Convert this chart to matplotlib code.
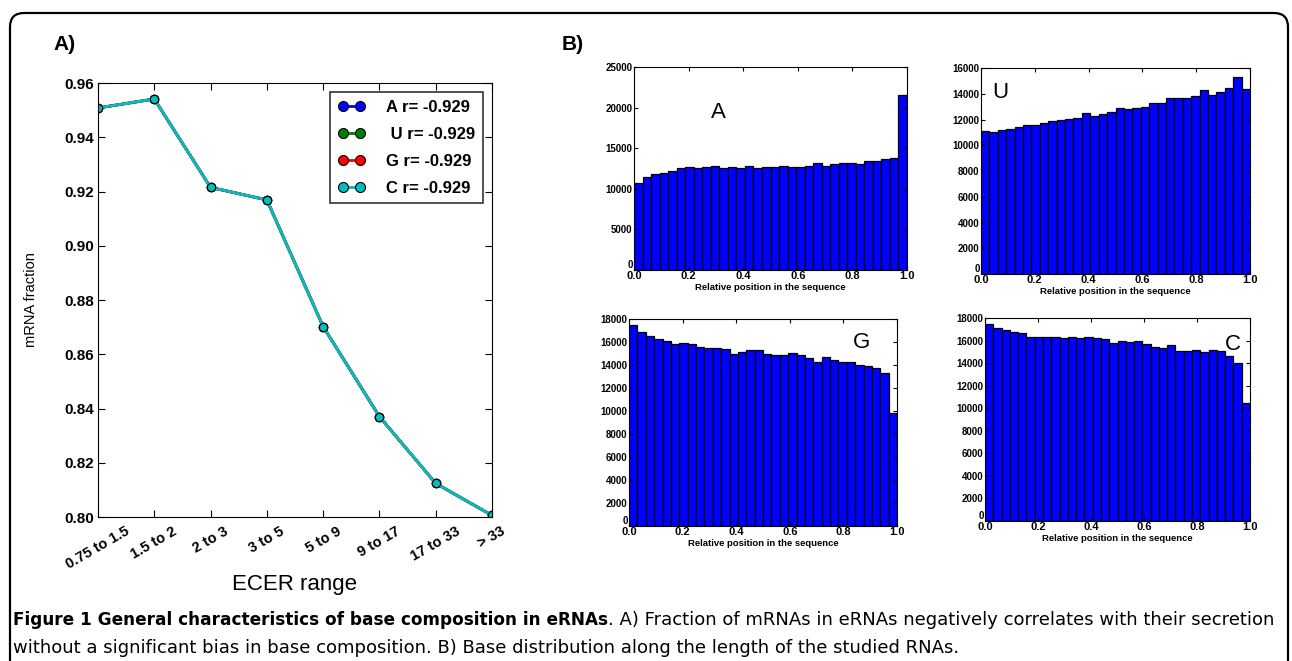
import numpy as np
import matplotlib
matplotlib.use('Agg')
import matplotlib.pyplot as plt
from matplotlib.patches import FancyBboxPatch
from matplotlib.text import Annotation
from matplotlib.transforms import IdentityTransform

plt.rcParams['font.family'] = ['Liberation Sans', 'DejaVu Sans']

################################### Data: #######################################
ecer_ranges = ['0.75 to 1.5', '1.5 to 2', '2 to 3', '3 to 5', '5 to 9', '9 to 17', '17 to 33', '> 33']
mrna_fraction = [0.9508, 0.9541, 0.9215, 0.9169, 0.8702, 0.8370, 0.8124, 0.8006]
legend_labels = ['A r= -0.929', ' U r= -0.929', 'G r= -0.929', 'C r= -0.929']
line_colors = ['b', 'g', 'r', 'c']

# 32 bins along the relative position
counts_A = [10700, 11450, 11800, 12000, 12150, 12600, 12650, 12550, 12700, 12750, 12600, 12700,
            12550, 12800, 12600, 12650, 12650, 12850, 12700, 12650, 12850, 13200, 12850, 13000,
            13150, 13150, 13000, 13400, 13400, 13650, 13850, 21500]
counts_U = [11100, 11000, 11200, 11300, 11450, 11600, 11550, 11700, 11850, 12000, 12050, 12100,
            12500, 12300, 12400, 12600, 12900, 12800, 12900, 12950, 13300, 13300, 13700, 13650,
            13700, 13850, 14300, 13900, 14150, 14450, 15300, 14400]
counts_G = [17500, 16900, 16500, 16300, 16100, 15800, 15950, 15850, 15600, 15450, 15450, 15400,
            15000, 15100, 15300, 15300, 15000, 14900, 14850, 15050, 14900, 14600, 14300, 14700,
            14450, 14250, 14250, 14000, 13900, 13750, 13300, 9800]
counts_C = [17500, 17100, 16900, 16750, 16700, 16350, 16300, 16300, 16300, 16250, 16300, 16250,
            16300, 16200, 16100, 15800, 15950, 15850, 15950, 15700, 15450, 15350, 15600, 15050,
            15100, 15200, 14950, 15150, 15050, 14600, 14050, 10500]

W, H = 1292, 661
fig = plt.figure(figsize=(W / 100, H / 100), dpi=100)

# rounded frame around the whole figure
frame = FancyBboxPatch((10, -60), 1278, 648 + 60, boxstyle="round,pad=0,rounding_size=14",
                       transform=IdentityTransform(), facecolor='none', edgecolor='black', lw=1.6)
fig.add_artist(frame)


def px_axes(left, top, right, bottom):
    return fig.add_axes([left / W, 1 - bottom / H, (right - left) / W, (bottom - top) / H])


################################### Panel A: ####################################
axA = px_axes(98, 83, 492, 517)
x = np.arange(len(ecer_ranges))
for lab, col in zip(legend_labels, line_colors):
    axA.plot(x, mrna_fraction, color=col, lw=2, marker='o', markersize=6,
             markerfacecolor=col, markeredgecolor='black', markeredgewidth=0.8, label=lab)
axA.set_xlim(0, 7)
axA.set_ylim(0.80, 0.96)
axA.set_yticks(np.arange(0.80, 0.961, 0.02))
axA.set_yticklabels([f'{v:.2f}' for v in np.arange(0.80, 0.961, 0.02)], fontweight='bold', fontsize=11)
axA.set_xticks(x)
axA.set_xticklabels(ecer_ranges, rotation=30, ha='center', fontweight='bold', fontsize=10.5)
axA.tick_params(direction='in', top=True, right=True, length=5, pad=3)
axA.tick_params(axis='x', pad=5)
axA.set_xlabel('ECER range', fontsize=16, labelpad=2)
axA.set_ylabel('mRNA fraction', fontsize=10.5, labelpad=19)
leg = axA.legend(loc='upper right', numpoints=2, handlelength=1.6, fancybox=False,
                 prop={'weight': 'bold', 'size': 12}, borderaxespad=0.55, labelspacing=0.72,
                 handletextpad=1.3, borderpad=0.45, markerscale=1.2)
leg.get_frame().set_edgecolor('black')
leg.get_frame().set_linewidth(1.2)
fig.text(53 / W, 1 - 50 / H, 'A)', fontsize=15, fontweight='bold', va='baseline')
fig.text(562 / W, 1 - 50 / H, 'B)', fontsize=15, fontweight='bold', va='baseline')

################################### Panel B: ####################################
edges = np.linspace(0, 1, len(counts_A) + 1)
hists = [
    (counts_A, (634, 67, 907, 270), 25000, 5000, 'A', (718, 112)),
    (counts_U, (981, 68, 1250, 274), 16000, 2000, 'U', (1000, 92)),
    (counts_G, (629, 319, 897, 526), 18000, 2000, 'G', (862, 343)),
    (counts_C, (985, 318, 1250, 521), 18000, 2000, 'C', (1233, 345)),
]
for counts, box, ymax, ystep, letter, lpos in hists:
    ax = px_axes(*box)
    ax.bar(edges[:-1], counts, width=np.diff(edges), align='edge', color='blue',
           edgecolor='black', linewidth=0.9)
    ax.set_xlim(0, 1)
    ax.set_ylim(0, ymax)
    ax.set_xticks(np.arange(0, 1.01, 0.2))
    ax.set_xticklabels([f'{v:.1f}' for v in np.arange(0, 1.01, 0.2)], fontweight='bold', fontsize=8)
    ax.set_yticks(np.arange(0, ymax + 1, ystep))
    ylabels = ax.set_yticklabels([str(v) for v in range(0, ymax + 1, ystep)], fontweight='bold', fontsize=7)
    ylabels[0].set_va('bottom')  # the "0" sits just above the corner
    ax.tick_params(direction='in', top=True, right=True, length=3, pad=1)
    ax.set_xlabel('Relative position in the sequence', fontweight='bold', fontsize=6.8, labelpad=1)
    fig.text(lpos[0] / W, 1 - lpos[1] / H, letter, fontsize=16, ha='center', va='center')

################################### Caption: ####################################
cap_font = ['DejaVu Sans']
t1 = fig.text(13 / W, 1 - 629 / H, 'Figure 1 General characteristics of base composition in eRNAs',
              fontsize=12.2, fontweight='bold', family=cap_font, va='bottom')
fig.add_artist(Annotation('. A) Fraction of mRNAs in eRNAs negatively correlates with their secretion',
                          xy=(1, 0), xycoords=t1, va='bottom', ha='left', fontsize=13.0, family=cap_font))
fig.text(13 / W, 1 - 657 / H,
         'without a significant bias in base composition. B) Base distribution along the length of the studied RNAs.',
         fontsize=13.0, family=cap_font, va='bottom')

plt.savefig('out.png', dpi=100)
